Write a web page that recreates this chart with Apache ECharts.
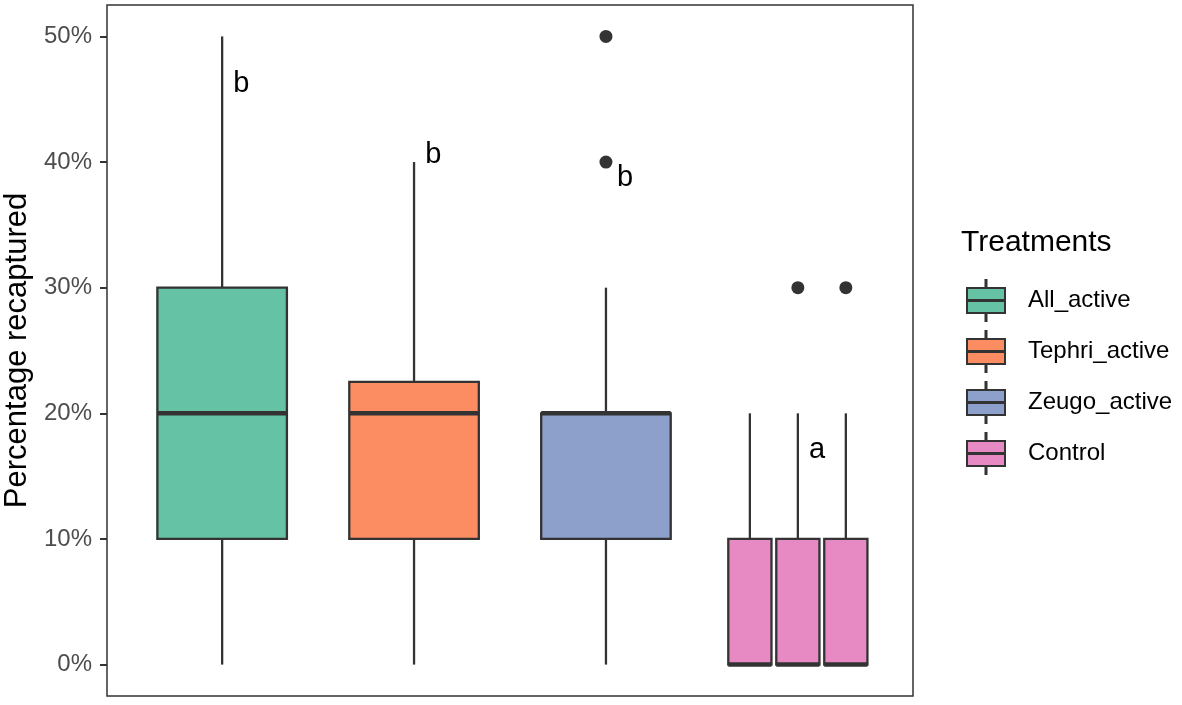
<!DOCTYPE html>
<html>
<head>
<meta charset="utf-8">
<script src="https://cdn.jsdelivr.net/npm/echarts@6/dist/echarts.min.js"></script>
<style>
  html, body { margin: 0; padding: 0; background: #fff; }
  #chart { width: 1182px; height: 705px; }
</style>
</head>
<body>
<div id="chart"></div>
<script>
var chart = echarts.init(document.getElementById('chart'));

// data (values in %)
var treatments = ['All_active', 'Tephri_active', 'Zeugo_active', 'Control'];
var colors = ['#66c2a5', '#fc8d62', '#8da0cb', '#e78ac3'];
// each box: [min, q1, median, q3, max]
var allActive = [[0, 10, 20, 30, 50]];
var tephriActive = [[0, 10, 20, 22.5, 40]];
var zeugoActive = [[0, 10, 20, 20, 30]];
var control = [[0, 0, 0, 10, 20], [0, 0, 0, 10, 20], [0, 0, 0, 10, 20]];
var boxes = [allActive, tephriActive, zeugoActive, control];
// outliers: [treatment index, box index within group, value]
var outliers = [[2, 0, 40], [2, 0, 50], [3, 1, 30], [3, 2, 30]];
// significance letters and their heights
var letters = ['b', 'b', 'b', 'a'];
var letterY = [46.2, 40.6, 38.7, 17.1];
var yTicks = [0, 10, 20, 30, 40, 50];

var dodge = 0.75;

function boxCenter(g, k) {
    var n = boxes[g].length;
    var slot = dodge / n;
    return g + 1 + (k - (n - 1) / 2) * slot;
}

function boxWidth(g) {
    return 0.9 * dodge / boxes[g].length;
}

var lineColor = '#333333';

var boxSeries = treatments.map(function (name, g) {
    return {
        name: name,
        type: 'custom',
        itemStyle: { color: colors[g] },
        data: boxes[g].map(function (b, k) { return [k].concat(b); }),
        renderItem: function (params, api) {
            var k = api.value(0);
            var xc = boxCenter(g, k);
            var hw = boxWidth(g) / 2;
            var pMin = api.coord([xc, api.value(1)]);
            var pQ1 = api.coord([xc, api.value(2)]);
            var pMed = api.coord([xc, api.value(3)]);
            var pQ3 = api.coord([xc, api.value(4)]);
            var pMax = api.coord([xc, api.value(5)]);
            var left = api.coord([xc - hw, 0])[0];
            var right = api.coord([xc + hw, 0])[0];
            return {
                type: 'group',
                children: [
                    { type: 'line', shape: { x1: pMin[0], y1: pMin[1], x2: pQ1[0], y2: pQ1[1] },
                      style: { stroke: lineColor, lineWidth: 2.3 } },
                    { type: 'line', shape: { x1: pQ3[0], y1: pQ3[1], x2: pMax[0], y2: pMax[1] },
                      style: { stroke: lineColor, lineWidth: 2.3 } },
                    { type: 'rect', shape: { x: left, y: pQ3[1], width: right - left, height: pQ1[1] - pQ3[1] },
                      style: { fill: colors[g], stroke: lineColor, lineWidth: 2.3 } },
                    { type: 'line', shape: { x1: left, y1: pMed[1], x2: right, y2: pMed[1] },
                      style: { stroke: lineColor, lineWidth: 4.5 } }
                ]
            };
        },
        z: 2
    };
});

var outlierSeries = {
    type: 'scatter',
    symbolSize: 13,
    itemStyle: { color: lineColor, opacity: 1 },
    data: outliers.map(function (o) { return [boxCenter(o[0], o[1]), o[2]]; }),
    z: 3
};

var letterSeries = {
    type: 'custom',
    data: letters.map(function (l, g) { return [g + 1.1, letterY[g]]; }),
    renderItem: function (params, api) {
        var p = api.coord([api.value(0), api.value(1)]);
        return {
            type: 'text',
            x: p[0],
            y: p[1],
            style: {
                text: letters[params.dataIndex],
                fill: '#000',
                fontSize: 29,
                fontFamily: 'Liberation Sans',
                align: 'center',
                verticalAlign: 'middle'
            }
        };
    },
    z: 4
};

var keyIcon = 'path://M18.5,0h1v8h-1z M0,8h38v25h-38z M18.5,33h1v8h-1z M0,19.9h38v1.2h-38z';

var option = {
    animation: false,
    textStyle: { fontFamily: 'Liberation Sans' },
    title: {
        text: 'Treatments',
        left: 961,
        top: 228,
        padding: 0,
        textStyle: { fontSize: 30, fontWeight: 'normal', color: '#000' }
    },
    legend: {
        orient: 'vertical',
        left: 966,
        top: 279,
        padding: 0,
        itemWidth: 38,
        itemHeight: 41,
        itemGap: 8,
        selectedMode: false,
        textStyle: { fontSize: 24, color: '#000', padding: [0, 0, 0, 18] },
        data: treatments.map(function (name, g) {
            return {
                name: name,
                icon: keyIcon,
                itemStyle: { color: colors[g], borderColor: lineColor, borderWidth: 2 }
            };
        })
    },
    grid: {
        left: 107,
        right: 269,
        top: 5,
        bottom: 9,
        containLabel: false,
        outerBoundsMode: 'none',
        show: true,
        borderColor: '#333',
        borderWidth: 1.5
    },
    xAxis: {
        type: 'value',
        min: 0.4,
        max: 4.6,
        axisLine: { show: false },
        axisTick: { show: false },
        axisLabel: { show: false },
        splitLine: { show: false }
    },
    yAxis: {
        type: 'value',
        min: -2.5,
        max: 52.5,
        name: 'Percentage recaptured',
        nameLocation: 'middle',
        nameGap: 70,
        nameTextStyle: { fontSize: 31, color: '#000' },
        axisLine: { show: false },
        axisTick: {
            show: true,
            length: 7,
            customValues: yTicks,
            lineStyle: { color: lineColor, width: 2 }
        },
        axisLabel: {
            customValues: yTicks,
            formatter: function (v) { return v + '%'; },
            color: '#4d4d4d',
            fontSize: 24,
            margin: 15
        },
        splitLine: { show: false }
    },
    series: boxSeries.concat([outlierSeries, letterSeries])
};

chart.setOption(option);
</script>
</body>
</html>
